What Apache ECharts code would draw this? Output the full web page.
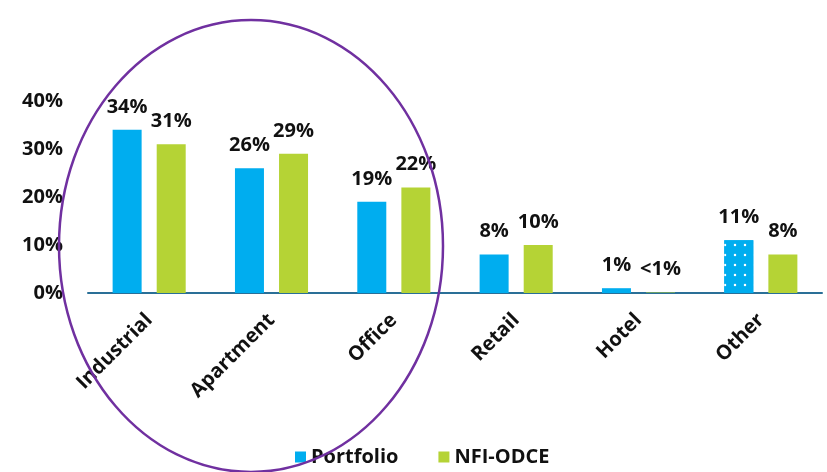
<!DOCTYPE html>
<html lang="en">
  <head>
    <meta charset="UTF-8" />
    <title>Portfolio vs NFI-ODCE</title>
    <style>
      * {
        margin: 0;
        padding: 0;
      }
      #main {
        width: 827px;
        height: 472px;
        background: #fff;
      }
    </style>
  </head>
  <body>
    <div id="main"></div>
    <script src="https://cdn.jsdelivr.net/npm/echarts@6/dist/echarts.min.js"></script>
    <script>
      // 数据
      const categories = ["Industrial", "Apartment", "Office", "Retail", "Hotel", "Other"];
      const portfolio = [34, 26, 19, 8, 1, 11];
      const odce = [31, 29, 22, 10, 0.1, 8];
      const odceLabels = ["31%", "29%", "22%", "10%", "<1%", "8%"];
      const yTicks = [0, 40, 10]; // min, max, interval

      const BLUE = "#00adef";
      const GREEN = "#b5d335";
      const FONT = "Open Sans";

      const myChart = echarts.init(document.getElementById("main"));

      const labelStyle = {
        show: true,
        position: "top",
        distance: 13,
        color: "#111",
        fontFamily: FONT,
        fontWeight: "bold",
        fontSize: 20,
      };

      const option = {
        animation: false,
        backgroundColor: "#fff",
        grid: { left: 88, right: 5, top: 101, bottom: 179 },
        legend: {
          bottom: 0,
          left: 290,
          itemWidth: 11,
          itemHeight: 11,
          itemGap: 40,
          icon: "rect",
          textStyle: { fontFamily: FONT, fontWeight: "bold", fontSize: 20, color: "#111" },
          data: ["Portfolio", "NFI-ODCE"],
        },
        xAxis: {
          type: "category",
          data: categories,
          axisLine: { lineStyle: { color: "#2a6f97", width: 2 } },
          axisTick: { show: false },
          axisLabel: {
            rotate: 45,
            margin: 24,
            color: "#111",
            fontFamily: FONT,
            fontWeight: "bold",
            fontSize: 20,
          },
        },
        yAxis: {
          type: "value",
          min: yTicks[0],
          max: yTicks[1],
          interval: yTicks[2],
          splitLine: { show: false },
          axisLine: { show: false },
          axisLabel: {
            formatter: "{value}%",
            margin: 25,
            color: "#111",
            fontFamily: FONT,
            fontWeight: "bold",
            fontSize: 20,
          },
        },
        series: [
          {
            name: "Portfolio",
            type: "bar",
            barWidth: 29,
            barGap: "52%",
            itemStyle: { color: BLUE },
            label: Object.assign({}, labelStyle, { formatter: "{c}%" }),
            data: portfolio.map((v, i) =>
              categories[i] === "Other"
                ? {
                    value: v,
                    itemStyle: {
                      decal: {
                        symbol: "circle",
                        symbolSize: 0.25,
                        color: "#ffffff",
                        backgroundColor: BLUE,
                        dashArrayX: [[10, 0]],
                        dashArrayY: [10, 0],
                        rotation: 0,
                      },
                    },
                  }
                : v
            ),
          },
          {
            name: "NFI-ODCE",
            type: "bar",
            barWidth: 29,
            itemStyle: { color: GREEN },
            label: Object.assign({}, labelStyle, {
              formatter: (p) => odceLabels[p.dataIndex],
            }),
            data: odce,
          },
        ],
        // 圈出前三类
        graphic: [
          {
            type: "ellipse",
            shape: { cx: 251, cy: 246, rx: 192, ry: 226 },
            style: { fill: null, stroke: "#7030a0", lineWidth: 2.5 },
            z: 100,
          },
        ],
      };

      myChart.setOption(option);
    </script>
  </body>
</html>
